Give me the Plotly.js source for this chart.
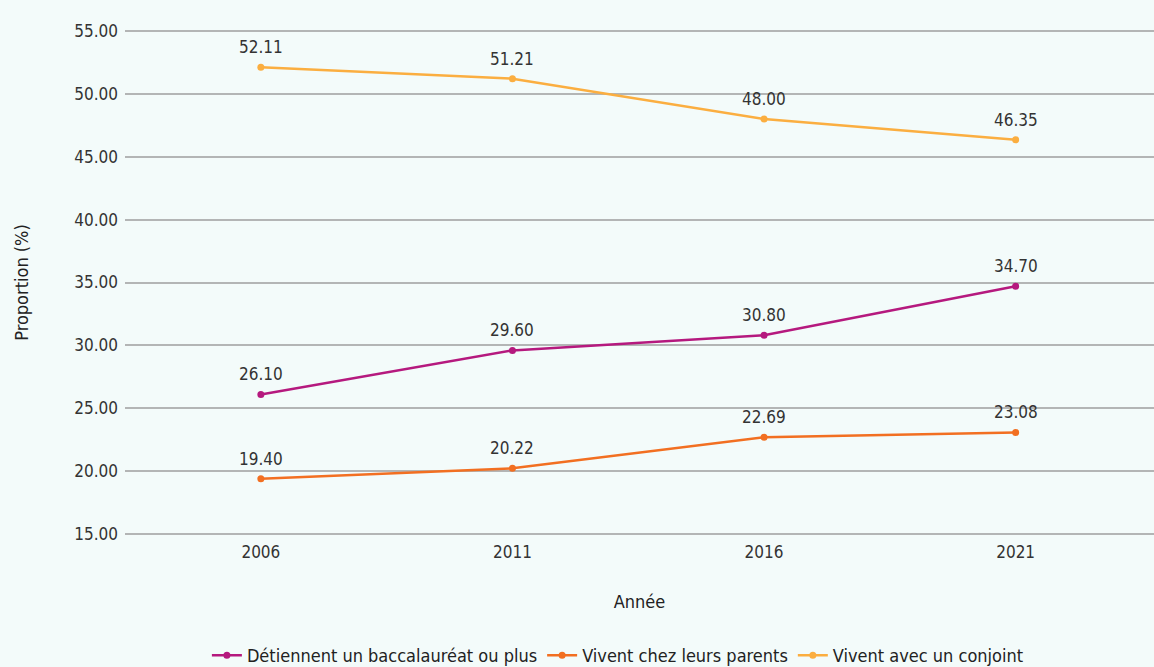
<!DOCTYPE html>
<html>
<head>
<meta charset="utf-8">
<script src="https://cdn.plot.ly/plotly-3.0.1.min.js"></script>
<style>html,body{margin:0;padding:0;background:#f3fbfa;}#chart{width:1154px;height:667px;}</style>
</head>
<body>
<div id="chart"></div>
<script>
const years = ["2006", "2011", "2016", "2021"];
const bacc = [26.10, 29.60, 30.80, 34.70];
const parents = [19.40, 20.22, 22.69, 23.08];
const conjoint = [52.11, 51.21, 48.00, 46.35];
const seriesNames = ["Détiennent un baccalauréat ou plus", "Vivent chez leurs parents", "Vivent avec un conjoint"];
const colors = ["#b5197e", "#f26f21", "#fbae40"];

const font = "'Liberation Sans Narrow', 'DejaVu Sans Condensed', 'Roboto', sans-serif";
const allSeries = [bacc, parents, conjoint];
const data = allSeries.map((vals, i) => ({
  type: "scatter",
  mode: "lines+markers",
  x: years,
  y: vals,
  name: seriesNames[i],
  line: {color: colors[i], width: 2.5},
  marker: {color: colors[i], size: 7},
  cliponaxis: false
}));

const annotations = [];
allSeries.forEach(vals => {
  vals.forEach((v, j) => {
    annotations.push({
      x: j, y: v, xref: "x", yref: "y",
      text: v.toFixed(2), showarrow: false,
      yshift: 20, font: {family: font, size: 17, color: "#333"}
    });
  });
});

const layout = {
  width: 1154, height: 667,
  paper_bgcolor: "#f3fbfa", plot_bgcolor: "#f3fbfa",
  margin: {l: 125, r: 0, t: 30, b: 132},
  font: {family: font, size: 17, color: "#333"},
  showlegend: true,
  legend: {orientation: "h", x: 0.479, xanchor: "center", yref: "container", y: 0.017, yanchor: "middle", font: {family: font, size: 18, color: "#222"}, traceorder: "normal"},
  xaxis: {
    type: "category", range: [-0.54, 3.55], showgrid: false, zeroline: false, showline: false, ticks: "",
    ticklabelstandoff: 5,
    tickfont: {family: font, size: 17, color: "#333"},
    title: {text: "Année", standoff: 34, font: {family: font, size: 18, color: "#222"}}
  },
  yaxis: {
    range: [14.92, 55.08], tickvals: [15, 20, 25, 30, 35, 40, 45, 50, 55], tickformat: ".2f", showgrid: true, gridcolor: "#b3b5b5", gridwidth: 2,
    zeroline: false, showline: false, ticks: "", ticklabelstandoff: 6,
    tickfont: {family: font, size: 17, color: "#333"},
    title: {text: "Proportion (%)", standoff: 40, font: {family: font, size: 18, color: "#222"}}
  },
  annotations: annotations
};
Plotly.newPlot("chart", data, layout, {displayModeBar: false, staticPlot: true});
</script>
</body>
</html>
